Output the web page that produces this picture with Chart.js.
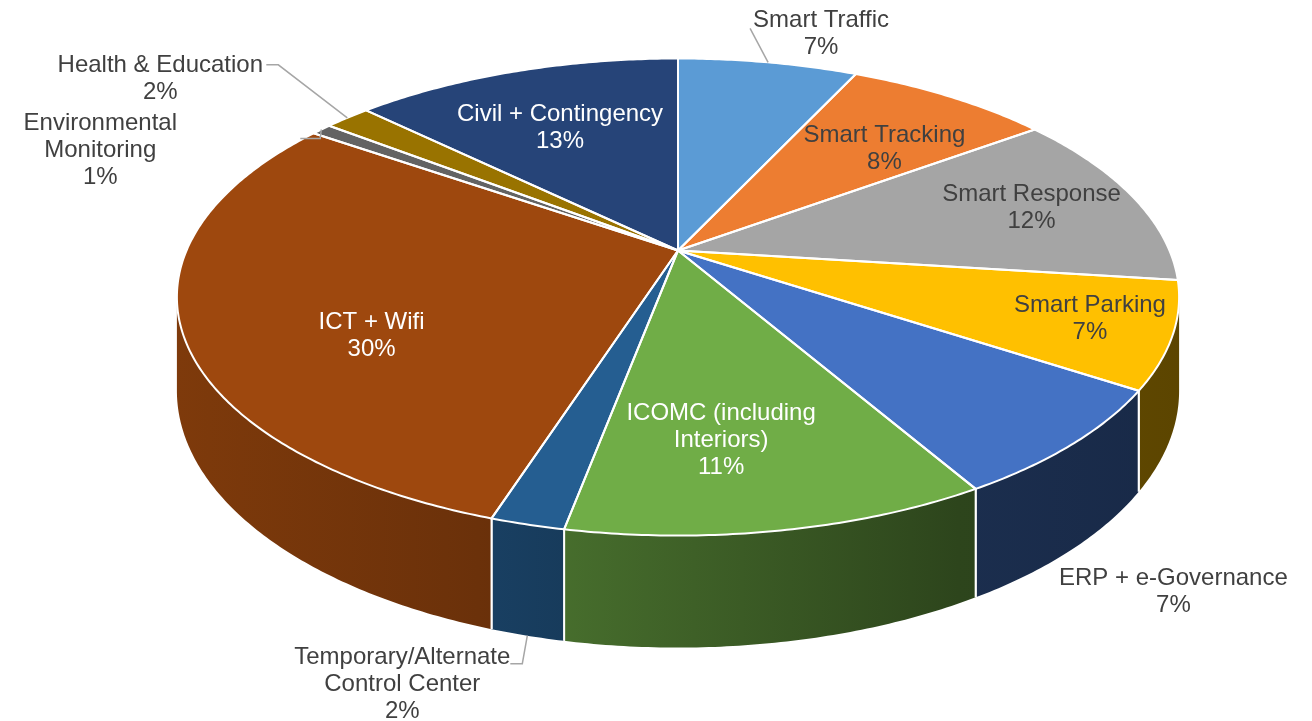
<!DOCTYPE html>
<html>
<head>
<meta charset="utf-8">
<title>Project cost split</title>
<script src="https://cdn.jsdelivr.net/npm/chart.js@4.4.1/dist/chart.umd.min.js"></script>
<style>
    html, body { margin: 0; padding: 0; background: #ffffff; }
    #wrap { width: 1312px; height: 721px; position: relative; }
</style>
</head>
<body>
<div id="wrap"><canvas id="myChart"></canvas></div>
<script>
// slices, clockwise from 12 o'clock
var categories = ['Smart Traffic', 'Smart Tracking', 'Smart Response', 'Smart Parking',
    'ERP + e-Governance', 'ICOMC (including Interiors)', 'Temporary/Alternate Control Center',
    'ICT + Wifi', 'Environmental Monitoring', 'Health & Education', 'Civil + Contingency'];

// share of the budget in %
var shares = [7.0, 8.0, 12.0, 7.2, 7.4, 11.4, 2.0, 29.6, 0.8, 1.8, 12.8];

var sliceColors = ['#5B9BD5', '#ED7D31', '#A5A5A5', '#FFC000', '#4472C4', '#70AD47',
    '#255E91', '#9E480E', '#636363', '#997300', '#264478'];

var labelColors = ['#404040', '#404040', '#404040', '#404040', '#404040', '#ffffff',
    '#404040', '#ffffff', '#404040', '#404040', '#ffffff'];

// where each data label goes: r = fraction of radius on the slice middle,
// below = measured from the bottom of the side wall, dx/dy = nudge, wrap = max line width
var labelSpots = [
    { r: 1, dx: 53, dy: -28, leader: [[-71, -6]] },
    { r: 0.7, dx: 8, dy: 10 },
    { r: 0.75, dx: 9, dy: -1 },
    { r: 0.85, dx: -4, dy: -3 },
    { r: 1, below: true, dx: 101, dy: 43 },
    { r: 0.7, dx: -24, dy: 7, wrap: 200 },
    { r: 1, below: true, dx: -125, dy: 49, wrap: 240, leader: [[120, -21], [108, -21]] },
    { r: 0.65, dx: 9, dy: 35 },
    { r: 1, dx: -221, dy: 21, wrap: 160, leader: [[220, -12], [200, -12]] },
    { r: 1, dx: -187, dy: -39, leader: [[118, -14], [106, -14]] },
    { r: 0.65, dx: -6, dy: 0 }
];

// 3D look: horizontal stretch, vertical squash, perspective tilt, wall height (all relative to radius)
var view3d = { stretchX: 1.962, squashY: 0.916, tilt: 0.195, depth: 0.36 };

function project(el, a, r, down) {
    var u = r * Math.cos(a), v = -r * Math.sin(a);
    var w = 1 + view3d.tilt * v;
    var R = el.outerRadius;
    var x = el.x + view3d.stretchX * R * u / w;
    var y = el.y - view3d.squashY * R * v / w;
    if (down) y += view3d.depth * R / w;
    return { x: x, y: y };
}

function shade(hex, f) {
    var n = parseInt(hex.slice(1), 16);
    var r = Math.round(((n >> 16) & 255) * f);
    var g = Math.round(((n >> 8) & 255) * f);
    var b = Math.round((n & 255) * f);
    return 'rgb(' + r + ',' + g + ',' + b + ')';
}

function wrapText(ctx, text, maxW) {
    var words = text.split(' '), lines = [], cur = '';
    words.forEach(function (w) {
        var t = cur ? cur + ' ' + w : w;
        if (cur && ctx.measureText(t).width > maxW) {
            lines.push(cur);
            cur = w;
        } else {
            cur = t;
        }
    });
    lines.push(cur);
    return lines;
}

var pie3d = {
    id: 'pie3d',
    beforeDatasetDraw: function (chart, args) {
        var ctx = chart.ctx;
        var arcs = args.meta.data;
        var el0 = arcs[0];
        var aLo = Math.asin(view3d.tilt), aHi = Math.PI - aLo;
        var half = view3d.stretchX * el0.outerRadius / Math.sqrt(1 - view3d.tilt * view3d.tilt);

        ctx.save();
        ctx.lineJoin = 'round';

        // side walls (front half only)
        arcs.forEach(function (el, i) {
            var s = Math.max(el.startAngle, aLo), e = Math.min(el.endAngle, aHi);
            if (e <= s) return;
            var n = Math.max(2, Math.ceil((e - s) / 0.01)), k, p;
            ctx.beginPath();
            for (k = 0; k <= n; k++) {
                p = project(el, s + (e - s) * k / n, 1);
                if (k === 0) ctx.moveTo(p.x, p.y); else ctx.lineTo(p.x, p.y);
            }
            for (k = n; k >= 0; k--) {
                p = project(el, s + (e - s) * k / n, 1, true);
                ctx.lineTo(p.x, p.y);
            }
            ctx.closePath();
            var col = sliceColors[i];
            var grad = ctx.createLinearGradient(el.x - half, 0, el.x + half, 0);
            grad.addColorStop(0, shade(col, 0.8));
            grad.addColorStop(0.3, shade(col, 0.68));
            grad.addColorStop(0.78, shade(col, 0.4));
            grad.addColorStop(1, shade(col, 0.36));
            ctx.fillStyle = grad;
            ctx.fill();

            ctx.strokeStyle = '#ffffff';
            ctx.lineWidth = 2;
            [[s, el.startAngle], [e, el.endAngle]].forEach(function (pair) {
                if (pair[0] !== pair[1]) return;
                var t = project(el, pair[0], 1), b = project(el, pair[0], 1, true);
                ctx.beginPath();
                ctx.moveTo(t.x, t.y);
                ctx.lineTo(b.x, b.y);
                ctx.stroke();
            });
        });

        // top faces
        function topPath(el) {
            var c = project(el, 0, 0);
            var n = Math.max(2, Math.ceil((el.endAngle - el.startAngle) / 0.01));
            ctx.beginPath();
            ctx.moveTo(c.x, c.y);
            for (var k = 0; k <= n; k++) {
                var p = project(el, el.startAngle + (el.endAngle - el.startAngle) * k / n, 1);
                ctx.lineTo(p.x, p.y);
            }
            ctx.closePath();
        }
        arcs.forEach(function (el) {
            topPath(el);
            ctx.fillStyle = el.options.backgroundColor;
            ctx.fill();
        });
        ctx.strokeStyle = '#ffffff';
        ctx.lineWidth = 2;
        arcs.forEach(function (el) {
            topPath(el);
            ctx.stroke();
        });
        ctx.restore();
        return false;
    },
    afterDatasetsDraw: function (chart) {
        var ctx = chart.ctx;
        var arcs = chart.getDatasetMeta(0).data;
        var total = shares.reduce(function (a, b) { return a + b; }, 0);
        var lineH = 27;

        ctx.save();
        ctx.font = '24px "Liberation Sans", Arial, sans-serif';
        ctx.textAlign = 'center';
        ctx.textBaseline = 'middle';

        arcs.forEach(function (el, i) {
            var spot = labelSpots[i];
            var mid = (el.startAngle + el.endAngle) / 2;
            var p = project(el, mid, spot.r, spot.below);
            var cx = p.x + spot.dx, cy = p.y + spot.dy;

            if (spot.leader) {
                ctx.beginPath();
                ctx.moveTo(p.x, p.y);
                spot.leader.forEach(function (pt) { ctx.lineTo(cx + pt[0], cy + pt[1]); });
                ctx.strokeStyle = '#A6A6A6';
                ctx.lineWidth = 1.5;
                ctx.stroke();
            }

            var lines = wrapText(ctx, categories[i], spot.wrap || Infinity);
            lines.push(Math.round(shares[i] / total * 100) + '%');
            ctx.fillStyle = labelColors[i];
            var y0 = cy - (lines.length - 1) * lineH / 2;
            lines.forEach(function (t, k) {
                ctx.fillText(t, cx, y0 + k * lineH);
            });
        });
        ctx.restore();
    }
};

var myChart = new Chart(document.getElementById('myChart').getContext('2d'), {
    type: 'pie',
    data: {
        labels: categories,
        datasets: [{
            data: shares,
            backgroundColor: sliceColors,
            borderWidth: 0,
            hoverOffset: 0,
            offset: 0
        }]
    },
    options: {
        responsive: true,
        maintainAspectRatio: false,
        animation: false,
        events: [],
        layout: { padding: { left: 44, top: 0, right: 0, bottom: 220 } },
        plugins: {
            legend: { display: false },
            tooltip: { enabled: false }
        }
    },
    plugins: [pie3d]
});
</script>
</body>
</html>
